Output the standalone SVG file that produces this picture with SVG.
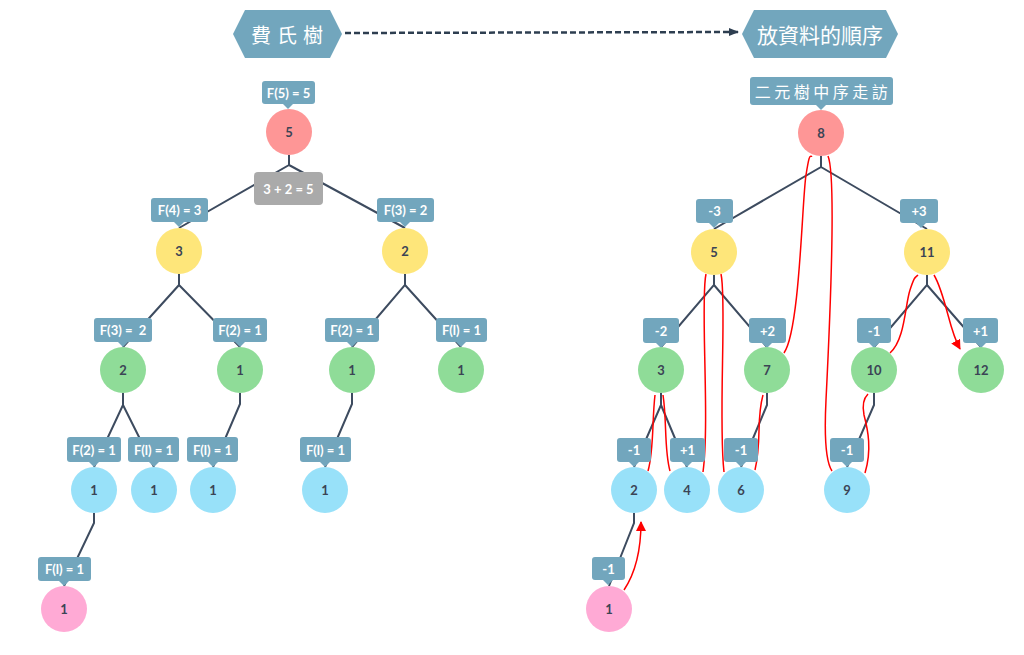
<svg xmlns="http://www.w3.org/2000/svg" width="1024" height="655" viewBox="0 0 1024 655">
<style>
.ln{fill:none;stroke:#3d4b5f;stroke-width:2}
.rd{fill:none;stroke:#ff0000;stroke-width:1.5}
.box{fill:#72a6bd}
.lbl{font-family:Lato,"Noto Sans",sans-serif;font-size:13px;font-weight:bold;fill:#ffffff;text-anchor:middle;dominant-baseline:central}
.nt{font-family:Lato,"Noto Sans",sans-serif;font-size:13px;font-weight:bold;fill:#3b4455;text-anchor:middle;dominant-baseline:central}
.hd{font-family:"Noto Sans CJK TC","Noto Sans CJK SC",sans-serif;fill:#ffffff;text-anchor:middle;dominant-baseline:central}
.red{fill:#fe9696}.yel{fill:#fee67a}.grn{fill:#8fdc98}.blu{fill:#98e1f9}.pnk{fill:#ffaad5}
</style>
<defs>
<marker id="ah" markerWidth="10" markerHeight="10" refX="9" refY="5" orient="auto" markerUnits="userSpaceOnUse"><path d="M0,0 L10,5 L0,10 z" fill="#ff0000"/></marker>
<marker id="dh" markerWidth="10" markerHeight="10" refX="9" refY="5" orient="auto" markerUnits="userSpaceOnUse"><path d="M0,1 L10,5 L0,9 z" fill="#2d3e50"/></marker>
</defs>

<g id="connectors">
<path class="ln" d="M345,33 L738,32" stroke="#2d3e50" stroke-width="2.5" stroke-dasharray="6,3" marker-end="url(#dh)" style="stroke:#2d3e50;stroke-width:2.5"/>
<!-- left tree -->
<path class="ln" d="M289,155 V165 L179,228 M289,165 L405,228"/>
<path class="ln" d="M179,274 V285 L123,347 M179,285 L240,347"/>
<path class="ln" d="M405,274 V285 L352,347 M405,285 L461,347"/>
<path class="ln" d="M123,393 V405 L94,467 M123,405 L154,467"/>
<path class="ln" d="M240,393 V404 L213,467"/>
<path class="ln" d="M352,393 V404 L325,467"/>
<path class="ln" d="M94,513 V523 L64,586"/>
<!-- right tree -->
<path class="ln" d="M821,156 V167 L714,229 M821,167 L927,229"/>
<path class="ln" d="M714,275 V285 L661,347 M714,285 L767,347"/>
<path class="ln" d="M927,275 V285 L874,347 M927,285 L981,347"/>
<path class="ln" d="M661,393 V405 L634,467 M661,405 L687,467"/>
<path class="ln" d="M767,393 V405 L741,467"/>
<path class="ln" d="M874,393 V405 L847,467"/>
<path class="ln" d="M634,513 V523 L609,586"/>
<!-- in-order traversal -->
<path class="rd" d="M624,590 C636,572 641,548 641,522" marker-end="url(#ah)"/>
<path class="rd" d="M648,471 C654,450 652,420 655,395"/>
<path class="rd" d="M663,395 C667,420 664,450 670,471"/>
<path class="rd" d="M703,472 C710,420 700,300 706,274"/>
<path class="rd" d="M721,274 C727,300 718,420 724,472"/>
<path class="rd" d="M755,470 C762,440 756,420 763,395"/>
<path class="rd" d="M784,353 C800,330 802,200 806,175 S810,158 812,156"/>
<path class="rd" d="M828,156 C836,175 831,300 826,400 C824,440 826,462 832,471"/>
<path class="rd" d="M865,473 C872,450 868,430 864,415 C862,405 864,398 868,394"/>
<path class="rd" d="M890,353 C905,340 905,305 910,290 S915,278 918,275"/>
<path class="rd" d="M934,275 C940,285 944,300 948,315 C952,330 955,340 960,349" marker-end="url(#ah)"/>
</g>

<g id="hdr-left"><polygon points="233,34 245,10 330,10 342,34 330,58 245,58" fill="#72a6bd"/><text class="hd" x="290" y="34" font-size="20" letter-spacing="6">費氏樹</text></g>
<g id="hdr-right"><polygon points="742,34 754,10 886,10 898,34 886,58 754,58" fill="#72a6bd"/><text class="hd" x="820" y="34" font-size="21">放資料的順序</text></g>

<!-- left tree nodes -->
<g id="L5"><rect class="box" x="262" y="81" width="53" height="23" rx="3"/><path class="box" d="M283,104 L293,104 L288,109 z"/><text class="lbl" x="288.5" y="92.5">F(5) = 5</text><circle class="red" cx="289" cy="132" r="23"/><text class="nt" x="289" y="132">5</text></g>
<g id="Lsum"><rect x="254" y="172" width="69" height="33" rx="4" fill="#aaaaaa"/><text class="lbl" x="288.5" y="188.5">3 + 2 = 5</text></g>
<g id="L3"><rect class="box" x="151" y="198" width="57" height="24" rx="3"/><path class="box" d="M174,222 L184,222 L179,227 z"/><text class="lbl" x="179.5" y="210">F(4) = 3</text><circle class="yel" cx="179" cy="251" r="23"/><text class="nt" x="179" y="251">3</text></g>
<g id="L2a"><rect class="box" x="377" y="198" width="57" height="24" rx="3"/><path class="box" d="M400,222 L410,222 L405,227 z"/><text class="lbl" x="405.5" y="210">F(3) = 2</text><circle class="yel" cx="405" cy="251" r="23"/><text class="nt" x="405" y="251">2</text></g>
<g id="L2b"><rect class="box" x="94" y="318" width="58" height="24" rx="3"/><path class="box" d="M118,342 L128,342 L123,347 z"/><text class="lbl" x="123" y="330" xml:space="preserve">F(3) =  2</text><circle class="grn" cx="123" cy="370" r="23"/><text class="nt" x="123" y="370">2</text></g>
<g id="L1a"><rect class="box" x="213" y="318" width="54" height="24" rx="3"/><path class="box" d="M235,342 L245,342 L240,347 z"/><text class="lbl" x="240" y="330">F(2) = 1</text><circle class="grn" cx="240" cy="370" r="23"/><text class="nt" x="240" y="370">1</text></g>
<g id="L1b"><rect class="box" x="325" y="318" width="54" height="24" rx="3"/><path class="box" d="M347,342 L357,342 L352,347 z"/><text class="lbl" x="352" y="330">F(2) = 1</text><circle class="grn" cx="352" cy="370" r="23"/><text class="nt" x="352" y="370">1</text></g>
<g id="L1c"><rect class="box" x="436" y="318" width="51" height="24" rx="3"/><path class="box" d="M456,342 L466,342 L461,347 z"/><text class="lbl" x="461.5" y="330">F(l) = 1</text><circle class="grn" cx="461" cy="370" r="23"/><text class="nt" x="461" y="370">1</text></g>
<g id="L1d"><rect class="box" x="67" y="437" width="54" height="25" rx="3"/><path class="box" d="M89,462 L99,462 L94,467 z"/><text class="lbl" x="94" y="449.5">F(2) = 1</text><circle class="blu" cx="94" cy="490" r="23"/><text class="nt" x="94" y="490">1</text></g>
<g id="L1e"><rect class="box" x="128" y="437" width="51" height="25" rx="3"/><path class="box" d="M149,462 L159,462 L154,467 z"/><text class="lbl" x="153.5" y="449.5">F(l) = 1</text><circle class="blu" cx="154" cy="490" r="23"/><text class="nt" x="154" y="490">1</text></g>
<g id="L1f"><rect class="box" x="187" y="437" width="51" height="25" rx="3"/><path class="box" d="M208,462 L218,462 L213,467 z"/><text class="lbl" x="212.5" y="449.5">F(l) = 1</text><circle class="blu" cx="213" cy="490" r="23"/><text class="nt" x="213" y="490">1</text></g>
<g id="L1g"><rect class="box" x="300" y="437" width="51" height="25" rx="3"/><path class="box" d="M320,462 L330,462 L325,467 z"/><text class="lbl" x="325.5" y="449.5">F(l) = 1</text><circle class="blu" cx="325" cy="490" r="23"/><text class="nt" x="325" y="490">1</text></g>
<g id="L1h"><rect class="box" x="38" y="557" width="53" height="24" rx="3"/><path class="box" d="M59,581 L69,581 L64,586 z"/><text class="lbl" x="64.5" y="569">F(l) = 1</text><circle class="pnk" cx="64" cy="609" r="23"/><text class="nt" x="64" y="609">1</text></g>

<!-- right tree nodes -->
<g id="R8"><rect class="box" x="750" y="77" width="143" height="28" rx="3"/><path class="box" d="M816,105 L826,105 L821,110 z"/><text class="hd" x="823" y="91" font-size="16" letter-spacing="3.5">二元樹中序走訪</text><circle class="red" cx="821" cy="133" r="23"/><text class="nt" x="821" y="133">8</text></g>
<g id="R5"><rect class="box" x="696" y="199" width="37" height="24" rx="3"/><path class="box" d="M709,223 L719,223 L714,228 z"/><text class="lbl" x="714.5" y="211">-3</text><circle class="yel" cx="714" cy="252" r="23"/><text class="nt" x="714" y="252">5</text></g>
<g id="R11"><rect class="box" x="900" y="199" width="38" height="24" rx="3"/><path class="box" d="M916,223 L926,223 L921,228 z"/><text class="lbl" x="919" y="211">+3</text><circle class="yel" cx="927" cy="252" r="23"/><text class="nt" x="927" y="252">11</text></g>
<g id="R3"><rect class="box" x="643" y="318" width="36" height="25" rx="3"/><path class="box" d="M656,343 L666,343 L661,348 z"/><text class="lbl" x="661" y="330.5">-2</text><circle class="grn" cx="661" cy="370" r="23"/><text class="nt" x="661" y="370">3</text></g>
<g id="R7"><rect class="box" x="749" y="318" width="37" height="25" rx="3"/><path class="box" d="M762,343 L772,343 L767,348 z"/><text class="lbl" x="767.5" y="330.5">+2</text><circle class="grn" cx="767" cy="370" r="23"/><text class="nt" x="767" y="370">7</text></g>
<g id="R10"><rect class="box" x="857" y="318" width="34" height="25" rx="3"/><path class="box" d="M869,343 L879,343 L874,348 z"/><text class="lbl" x="874" y="330.5">-1</text><circle class="grn" cx="874" cy="370" r="23"/><text class="nt" x="874" y="370">10</text></g>
<g id="R12"><rect class="box" x="963" y="318" width="35" height="25" rx="3"/><path class="box" d="M976,343 L986,343 L981,348 z"/><text class="lbl" x="980.5" y="330.5">+1</text><circle class="grn" cx="981" cy="370" r="23"/><text class="nt" x="981" y="370">12</text></g>
<g id="R2"><rect class="box" x="617" y="438" width="34" height="24" rx="3"/><path class="box" d="M629,462 L639,462 L634,467 z"/><text class="lbl" x="634" y="450">-1</text><circle class="blu" cx="634" cy="490" r="23"/><text class="nt" x="634" y="490">2</text></g>
<g id="R4"><rect class="box" x="670" y="438" width="35" height="24" rx="3"/><path class="box" d="M682,462 L692,462 L687,467 z"/><text class="lbl" x="687.5" y="450">+1</text><circle class="blu" cx="687" cy="490" r="23"/><text class="nt" x="687" y="490">4</text></g>
<g id="R6"><rect class="box" x="724" y="438" width="34" height="24" rx="3"/><path class="box" d="M736,462 L746,462 L741,467 z"/><text class="lbl" x="741" y="450">-1</text><circle class="blu" cx="741" cy="490" r="23"/><text class="nt" x="741" y="490">6</text></g>
<g id="R9"><rect class="box" x="830" y="438" width="34" height="24" rx="3"/><path class="box" d="M842,462 L852,462 L847,467 z"/><text class="lbl" x="847" y="450">-1</text><circle class="blu" cx="847" cy="490" r="23"/><text class="nt" x="847" y="490">9</text></g>
<g id="R1"><rect class="box" x="592" y="557" width="33" height="23" rx="3"/><path class="box" d="M603,580 L613,580 L608,585 z"/><text class="lbl" x="608.5" y="568.5">-1</text><circle class="pnk" cx="609" cy="609" r="23"/><text class="nt" x="609" y="609">1</text></g>
</svg>
